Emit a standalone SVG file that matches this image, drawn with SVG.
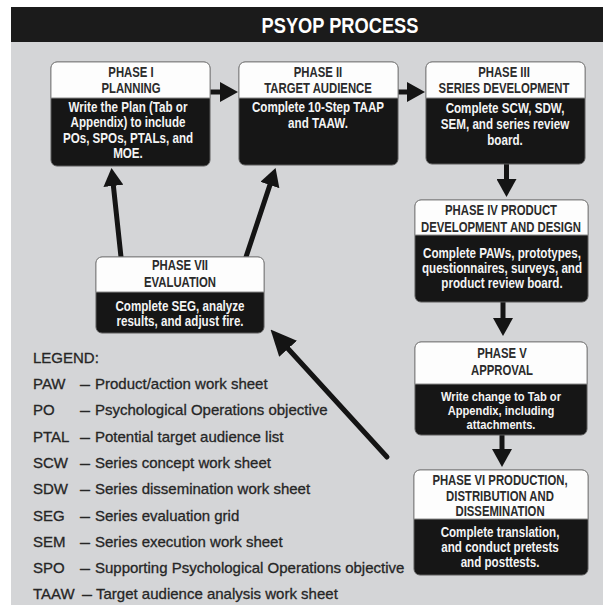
<svg xmlns="http://www.w3.org/2000/svg" width="603" height="606" viewBox="0 0 603 606">
<style>
.bg{fill:#d4d5d7}
.bar{fill:#1b1b1b}
.box{fill:#161616;stroke:#5a5a5a;stroke-width:1}
.hdr{fill:#fdfdfd;stroke:#8a8a8a;stroke-width:1}
.ht{font-family:"Liberation Sans",Arial,sans-serif;font-weight:bold;font-size:14px;fill:#2b2b2b;text-anchor:middle}
.bt{font-family:"Liberation Sans",Arial,sans-serif;font-weight:bold;font-size:14px;fill:#f4f4f4;text-anchor:middle}
.bts{font-size:13px}
.lg{font-family:"Liberation Sans",Arial,sans-serif;font-size:15px;fill:#262626;stroke:#262626;stroke-width:0.3}
.title{font-family:"Liberation Sans",Arial,sans-serif;font-weight:bold;font-size:22px;fill:#ffffff;text-anchor:middle}
.conn path{stroke:#141414;stroke-width:5;fill:none;stroke-linecap:round}
</style>
<defs>
<marker id="ah" viewBox="0 0 18 20" refX="1" refY="10" markerWidth="3.6" markerHeight="4" orient="auto" markerUnits="strokeWidth"><path d="M0,0 L18,10 L0,20 Z" fill="#141414"/></marker>
<marker id="ahL" viewBox="0 0 26 24" refX="1" refY="12" markerWidth="5.2" markerHeight="4.8" orient="auto" markerUnits="strokeWidth"><path d="M0,0 L26,12 L0,24 Z" fill="#141414"/></marker>
</defs>
<rect x="0" y="0" width="603" height="606" fill="#ffffff"/>
<rect class="bg" x="11" y="7" width="592" height="598"/>
<rect class="bar" x="11" y="7" width="592" height="35"/>
<text class="title" transform="translate(340,0) scale(0.83,1)" x="0" y="33">PSYOP PROCESS</text>

<g id="connectors" class="conn">
<path d="M210,92 H221" marker-end="url(#ah)"/>
<path d="M398,92 H408" marker-end="url(#ah)"/>
<path d="M506.5,164 V180" marker-end="url(#ah)"/>
<path d="M503,302 V319" marker-end="url(#ah)"/>
<path d="M502,435 V450" marker-end="url(#ah)"/>
<path d="M121,257 L113.3,184.9" marker-end="url(#ah)"/>
<path d="M246,257 L270.2,184.1" marker-end="url(#ah)"/>
<path d="M387,457 L287.4,348" marker-end="url(#ahL)"/>
</g>

<g id="phase1">
<rect class="box" x="51" y="62" width="159" height="104" rx="6"/>
<path class="hdr" d="M51,98 V68 A6,6 0 0 1 57,62 H204 A6,6 0 0 1 210,68 V98 Z"/>
<g transform="translate(131,0) scale(0.81,1)"><text class="ht" x="0" y="77">PHASE I</text><text class="ht" x="0" y="93">PLANNING</text></g>
<g transform="translate(128,0) scale(0.83,1)"><text class="bt" x="0" y="112">Write the Plan (Tab or</text><text class="bt" x="0" y="127.5">Appendix) to include</text><text class="bt" x="0" y="143">POs, SPOs, PTALs, and</text><text class="bt" x="0" y="158">MOE.</text></g>
</g>

<g id="phase2">
<rect class="box" x="239" y="62" width="159" height="103" rx="6"/>
<path class="hdr" d="M239,98 V68 A6,6 0 0 1 245,62 H392 A6,6 0 0 1 398,68 V98 Z"/>
<g transform="translate(318,0) scale(0.81,1)"><text class="ht" x="0" y="77">PHASE II</text><text class="ht" x="0" y="93">TARGET AUDIENCE</text></g>
<g transform="translate(318,0) scale(0.83,1)"><text class="bt" x="0" y="112">Complete 10-Step TAAP</text><text class="bt" x="0" y="128">and TAAW.</text></g>
</g>

<g id="phase3">
<rect class="box" x="426" y="62" width="159" height="102" rx="6"/>
<path class="hdr" d="M426,98 V68 A6,6 0 0 1 432,62 H579 A6,6 0 0 1 585,68 V98 Z"/>
<g transform="translate(504,0) scale(0.81,1)"><text class="ht" x="0" y="77">PHASE III</text><text class="ht" x="0" y="93">SERIES DEVELOPMENT</text></g>
<g transform="translate(505,0) scale(0.83,1)"><text class="bt" x="0" y="113">Complete SCW, SDW,</text><text class="bt" x="0" y="129">SEM, and series review</text><text class="bt" x="0" y="145">board.</text></g>
</g>

<g id="phase4">
<rect class="box" x="415" y="200" width="173" height="102" rx="6"/>
<path class="hdr" d="M415,235 V206 A6,6 0 0 1 421,200 H582 A6,6 0 0 1 588,206 V235 Z"/>
<g transform="translate(501,0) scale(0.81,1)"><text class="ht" x="0" y="215">PHASE IV  PRODUCT</text><text class="ht" x="0" y="232">DEVELOPMENT AND DESIGN</text></g>
<g transform="translate(502,0) scale(0.83,1)"><text class="bt" x="0" y="258">Complete PAWs, prototypes,</text><text class="bt" x="0" y="273">questionnaires, surveys, and</text><text class="bt" x="0" y="288">product review board.</text></g>
</g>

<g id="phase5">
<rect class="box" x="415" y="342" width="172" height="93" rx="6"/>
<path class="hdr" d="M415,384 V348 A6,6 0 0 1 421,342 H581 A6,6 0 0 1 587,348 V384 Z"/>
<g transform="translate(502,0) scale(0.81,1)"><text class="ht" x="0" y="358">PHASE V</text><text class="ht" x="0" y="375">APPROVAL</text></g>
<g transform="translate(501,0) scale(0.86,1)"><text class="bt bts" x="0" y="401">Write change to Tab or</text><text class="bt bts" x="0" y="415">Appendix, including</text><text class="bt bts" x="0" y="429">attachments.</text></g>
</g>

<g id="phase6">
<rect class="box" x="414" y="470" width="174" height="105" rx="6"/>
<path class="hdr" d="M414,519 V476 A6,6 0 0 1 420,470 H582 A6,6 0 0 1 588,476 V519 Z"/>
<g transform="translate(500,0) scale(0.81,1)"><text class="ht" x="0" y="485">PHASE VI  PRODUCTION,</text><text class="ht" x="0" y="501">DISTRIBUTION AND</text><text class="ht" x="0" y="516">DISSEMINATION</text></g>
<g transform="translate(500,0) scale(0.83,1)"><text class="bt" x="0" y="537">Complete translation,</text><text class="bt" x="0" y="552">and conduct pretests</text><text class="bt" x="0" y="567">and posttests.</text></g>
</g>

<g id="phase7">
<rect class="box" x="96" y="257" width="168" height="76" rx="6"/>
<path class="hdr" d="M96,292 V263 A6,6 0 0 1 102,257 H258 A6,6 0 0 1 264,263 V292 Z"/>
<g transform="translate(180,0) scale(0.81,1)"><text class="ht" x="0" y="270">PHASE VII</text><text class="ht" x="0" y="287">EVALUATION</text></g>
<g transform="translate(180,0) scale(0.83,1)"><text class="bt" x="0" y="311">Complete SEG, analyze</text><text class="bt" x="0" y="326">results, and adjust fire.</text></g>
</g>

<g id="legend" class="lg">
<text x="33" y="362.5">LEGEND:</text>
<text x="33" y="388.5">PAW</text><text x="80" y="388.5" textLength="10" lengthAdjust="spacingAndGlyphs">—</text><text x="95" y="388.5">Product/action work sheet</text>
<text x="33" y="415">PO</text><text x="80" y="415" textLength="10" lengthAdjust="spacingAndGlyphs">—</text><text x="95" y="415">Psychological Operations objective</text>
<text x="33" y="441.5">PTAL</text><text x="80" y="441.5" textLength="10" lengthAdjust="spacingAndGlyphs">—</text><text x="95" y="441.5">Potential target audience list</text>
<text x="33" y="467.5">SCW</text><text x="80" y="467.5" textLength="10" lengthAdjust="spacingAndGlyphs">—</text><text x="95" y="467.5">Series concept work sheet</text>
<text x="33" y="494">SDW</text><text x="80" y="494" textLength="10" lengthAdjust="spacingAndGlyphs">—</text><text x="95" y="494">Series dissemination work sheet</text>
<text x="33" y="520.5">SEG</text><text x="80" y="520.5" textLength="10" lengthAdjust="spacingAndGlyphs">—</text><text x="95" y="520.5">Series evaluation grid</text>
<text x="33" y="547">SEM</text><text x="80" y="547" textLength="10" lengthAdjust="spacingAndGlyphs">—</text><text x="95" y="547">Series execution work sheet</text>
<text x="33" y="573">SPO</text><text x="80" y="573" textLength="10" lengthAdjust="spacingAndGlyphs">—</text><text x="95" y="573">Supporting Psychological Operations objective</text>
<text x="33" y="599">TAAW</text><text x="82" y="599" textLength="10" lengthAdjust="spacingAndGlyphs">—</text><text x="96" y="599">Target audience analysis work sheet</text>
</g>
</svg>
